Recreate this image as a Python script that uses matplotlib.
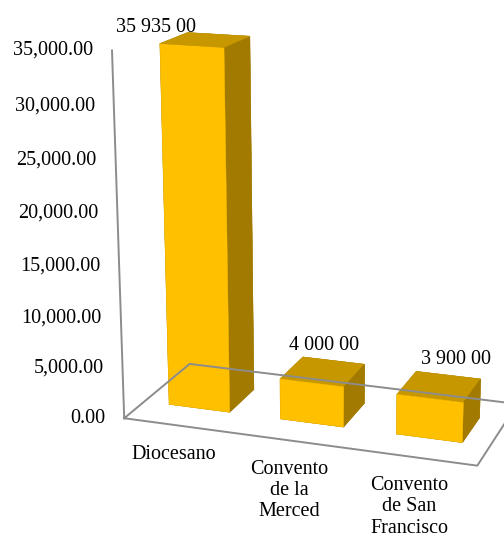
import numpy as np
import matplotlib.pyplot as plt
from mpl_toolkits.mplot3d import proj3d

plt.rcParams['font.family'] = ['Liberation Serif', 'DejaVu Serif']

categories = ["Diocesano", "Convento\nde la\nMerced", "Convento\nde San\nFrancisco"]
values = [35935.00, 4000.00, 3900.00]
value_labels = ["35 935 00", "4 000 00", "3 900 00"]
zticks = [0, 5000, 10000, 15000, 20000, 25000, 30000, 35000]

front_col = "#FFC000"
top_col = "#C79700"
side_col = "#A27A00"
floor_col = "#8C8C8C"

n = len(categories)
depth = 1.35      # floor depth in category widths (gap depth 150%)
bar_w = 0.55
zmax = 35000

fig = plt.figure(figsize=(5.04, 5.37), dpi=100)
ax = fig.add_axes([0.127, 0.051, 1.0, 1.0], projection='3d', computed_zorder=False)
ax.set_proj_type('persp', focal_length=0.65)
ax.view_init(elev=16, azim=-71)
ax.set_xlim(0, n)
ax.set_ylim(0, depth)
ax.set_zlim(0, zmax)
ax.set_box_aspect((2.95, depth, 3.02), zoom=1.07)
ax.set_axis_off()

# floor outline and the value axis line
ax.plot([0, n, n, 0, 0], [0, 0, depth, depth, 0], [0] * 5, color=floor_col, lw=1.4)
ax.plot([0, 0], [0, 0], [0, zmax], color=floor_col, lw=1.4)

# columns, cut at the axis maximum; faces ordered -z, +z, -y, +y, -x, +x
heights = np.minimum(values, zmax)
xs = np.arange(n) + 0.5 - bar_w / 2
y0 = (depth - bar_w) / 2
face_cols = [side_col, top_col, front_col, side_col, side_col, side_col]
ax.bar3d(xs, [y0] * n, [0] * n, bar_w, bar_w, heights,
         color=face_cols * n, edgecolor=face_cols * n, linewidth=0.3, shade=False)

M = ax.get_proj()


def to2d(x, y, z):
    px, py, _ = proj3d.proj_transform(x, y, z, M)
    return px, py


for v in zticks:
    ax.annotate(f"{v:,.2f}", xy=to2d(0, 0, v), xytext=(-19, 0),
                textcoords='offset pixels', ha='right', va='center',
                fontsize=14.5, annotation_clip=False)

for i, name in enumerate(categories):
    ax.annotate(name, xy=to2d(i + 0.5, 0, 0), xytext=(-6, -19),
                textcoords='offset pixels', ha='center', va='top',
                multialignment='center', linespacing=1.15,
                fontsize=14.5, annotation_clip=False)

label_offsets = [(-49, 12), (1, 26), (17, 27)]
for i, (h, txt) in enumerate(zip(heights, value_labels)):
    ax.annotate(txt, xy=to2d(i + 0.5, depth / 2, h), xytext=label_offsets[i],
                textcoords='offset pixels', ha='center', va='center',
                fontsize=14.5, annotation_clip=False)

fig.savefig("out.png", dpi=100)
